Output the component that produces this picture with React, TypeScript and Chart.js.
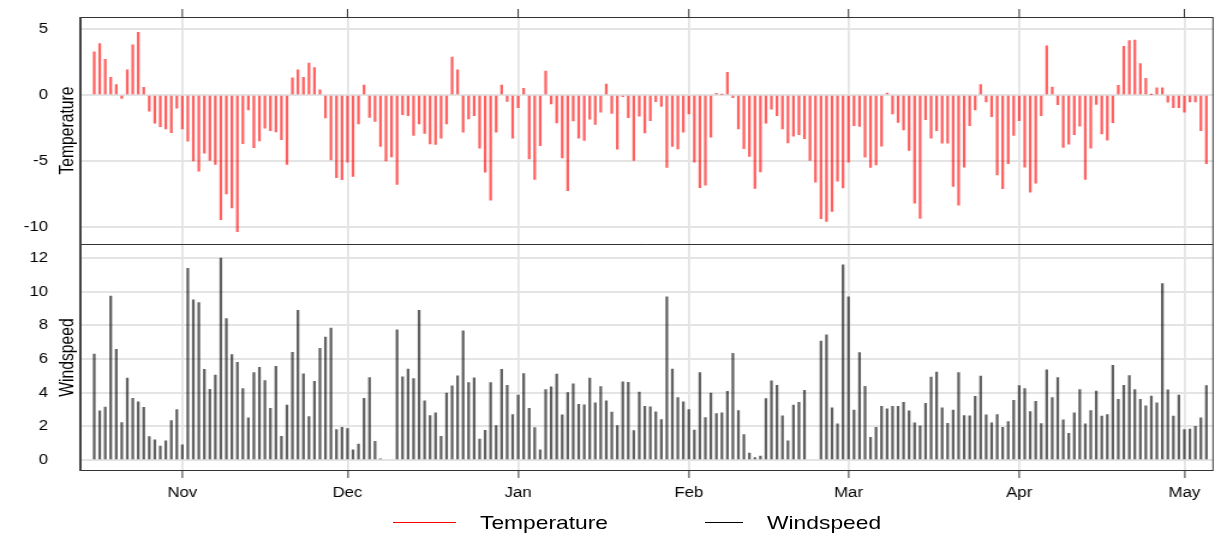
import React, { useEffect, useRef } from "react";
import { Chart, registerables } from "chart.js";

Chart.register(...registerables);

// ---------- DATA ----------
const startDate = "2019-10-16";

const tempOct = [3.27, 3.9, 2.7, 1.33, 0.78, -0.25, 1.9, 3.8, 4.74, 0.58, -1.23, -2.14, -2.4, -2.57, -2.85, -1.0];
const tempNov = [-2.57, -3.5, -5.0, -5.77, -4.4, -4.96, -5.26, -9.45, -7.5, -8.56, -10.35, -3.68, -1.13, -4.0, -3.48, -2.52, -2.7, -2.8, -3.38, -5.26, 1.31, 1.91, 1.33, 2.42, 2.07, 0.4, -1.74, -4.91, -6.27, -6.42];
const tempDec = [-5.09, -6.17, -2.2, 0.76, -1.69, -2.0, -3.9, -5.0, -4.7, -6.78, -1.5, -1.56, -3.07, -2.2, -2.92, -3.7, -3.75, -3.27, -2.19, 2.87, 1.9, -2.82, -1.81, -1.56, -4.03, -5.84, -7.96, -2.82, 0.76, -0.48, -3.27];
const tempJan = [-0.96, 0.5, -4.84, -6.4, -3.83, 1.81, -0.68, -2.12, -4.76, -7.25, -1.96, -3.27, -3.45, -1.84, -2.22, -1.31, 0.83, -1.39, -4.1, -0.13, -1.71, -4.96, -1.61, -2.87, -1.94, -0.5, -0.86, -5.49, -3.9, -4.08, -2.82];
const tempFeb = [-1.44, -5.09, -7.03, -6.83, -3.2, 0.13, 0.05, 1.71, -0.2, -2.57, -4.06, -4.66, -7.08, -5.82, -2.14, -1.08, -1.56, -2.57, -3.63, -3.12, -3.0, -3.3, -4.96, -6.6, -9.37, -9.57, -8.82, -6.52, -7.05];
const tempMar = [-5.09, -2.32, -2.39, -4.71, -5.49, -5.29, -3.88, 0.15, -1.44, -2.07, -2.64, -4.2, -8.19, -9.35, -1.86, -3.27, -2.7, -3.65, -3.65, -6.93, -8.34, -5.47, -2.32, -1.13, 0.78, -0.53, -1.64, -6.05, -7.1, -5.21, -3.07];
const tempApr = [-1.94, -5.47, -7.36, -6.68, -1.56, 3.73, 0.6, -0.73, -3.98, -3.73, -3.0, -2.37, -6.4, -4.03, -0.71, -2.95, -3.43, -2.09, 0.73, 3.68, 4.13, 4.16, 2.39, 1.26, 0.03, 0.55, 0.55, -0.55, -0.96, -0.96];
const tempMay = [-1.31, -0.53, -0.53, -2.7, -5.21];

const windOct = [6.3, 2.92, 3.14, 9.74, 6.58, 2.22, 4.86, 3.66, 3.46, 3.12, 1.38, 1.2, 0.82, 1.14, 2.34, 3.0];
const windNov = [0.9, 11.4, 9.52, 9.36, 5.38, 4.2, 5.04, 12.0, 8.4, 6.26, 5.8, 4.24, 2.5, 5.2, 5.5, 4.72, 3.06, 5.56, 1.4, 3.26, 6.4, 8.9, 5.12, 2.58, 4.68, 6.64, 7.3, 7.84, 1.8, 1.94];
const windDec = [1.86, 0.6, 0.94, 3.66, 4.9, 1.1, 0.06, null, null, 7.74, 4.94, 5.4, 4.84, 8.9, 3.52, 2.64, 2.8, 1.4, 3.98, 4.4, 5.0, 7.68, 4.6, 4.88, 1.24, 1.76, 4.6, 2.04, 5.38, 4.44, 2.7];
const windJan = [3.86, 5.14, 3.06, 1.92, 0.6, 4.18, 4.34, 5.1, 2.68, 4.0, 4.52, 3.3, 3.28, 4.86, 3.4, 4.36, 3.52, 2.84, 2.04, 4.64, 4.62, 1.74, 4.04, 3.18, 3.16, 2.86, 2.4, 9.7, 5.4, 3.7, 3.46];
const windFeb = [3.0, 1.78, 5.2, 2.52, 3.98, 2.76, 2.8, 4.08, 6.34, 2.94, 1.5, 0.4, 0.14, 0.22, 3.64, 4.7, 4.44, 2.62, 1.14, 3.26, 3.42, 4.14, null, null, 7.06, 7.44, 3.1, 2.14, 11.6];
const windMar = [9.7, 2.96, 6.38, 4.38, 1.34, 1.94, 3.18, 3.04, 3.18, 3.18, 3.42, 2.92, 2.2, 2.02, 3.36, 4.92, 5.22, 3.1, 2.18, 2.96, 5.2, 2.64, 2.62, 3.78, 4.98, 2.68, 2.2, 2.7, 1.94, 2.28, 3.54];
const windApr = [4.42, 4.24, 2.88, 3.48, 2.16, 5.36, 3.7, 4.9, 2.38, 1.58, 2.8, 4.18, 2.14, 2.94, 4.1, 2.6, 2.7, 5.62, 3.6, 4.44, 5.02, 4.18, 3.6, 3.22, 3.8, 3.4, 10.48, 4.16, 2.6, 3.86];
const windMay = [1.8, 1.84, 2.0, 2.5, 4.42];

const temperature = [...tempOct, ...tempNov, ...tempDec, ...tempJan, ...tempFeb, ...tempMar, ...tempApr, ...tempMay];
const windspeed = [...windOct, ...windNov, ...windDec, ...windJan, ...windFeb, ...windMar, ...windApr, ...windMay];

const monthTickDates = ["2019-11-01", "2019-12-01", "2020-01-01", "2020-02-01", "2020-03-01", "2020-04-01", "2020-05-01"];
const monthTickLabels = ["Nov", "Dec", "Jan", "Feb", "Mar", "Apr", "May"];
const tempTicks = [-10, -5, 0, 5];
const windTicks = [0, 2, 4, 6, 8, 10, 12];
const seriesNames = ["Temperature", "Windspeed"];
const seriesColors = ["#ff0000", "#000000"];

// ---------- HELPERS ----------
const DAY = 86400000;
const dayIndex = (d: string) => Math.round((Date.parse(d) - Date.parse(startDate)) / DAY);
const monthTickDays = monthTickDates.map(dayIndex);

const FONT = '"Liberation Sans", Arial, sans-serif';

// the figure is drawn on a narrower canvas and stretched horizontally (as in the reference)
const OUT_W = 1215;
const OUT_H = 533;
const CANVAS_W = 1012;
const SX = OUT_W / CANVAS_W;

const framePlugin = {
  id: "frame",
  afterDraw(chart: any) {
    const { ctx, chartArea: a, scales } = chart;
    ctx.save();
    ctx.strokeStyle = "#333";
    ctx.lineWidth = 1;
    ctx.strokeRect(a.left, a.top + 0.5, a.right - a.left, a.bottom - a.top - 1);
    const sep = Math.round(scales.yT.bottom) + 0.5;
    ctx.beginPath();
    ctx.moveTo(a.left, sep);
    ctx.lineTo(a.right, sep);
    ctx.stroke();
    ctx.strokeStyle = "#444";
    ctx.lineWidth = 2;
    ctx.beginPath();
    ctx.moveTo(a.left - 0.5, a.top);
    ctx.lineTo(a.left - 0.5, a.bottom);
    ctx.stroke();
    ctx.strokeStyle = "#333";
    ctx.lineWidth = 1;
    monthTickDays.forEach((d) => {
      const x = scales.x.getPixelForValue(d);
      ctx.beginPath();
      ctx.moveTo(x, a.top - 8);
      ctx.lineTo(x, a.top);
      ctx.stroke();
    });
    ctx.fillStyle = "#000";
    ctx.font = `15.7px ${FONT}`;
    ctx.textAlign = "center";
    ctx.textBaseline = "middle";
    const strips = [
      { s: scales.yT, t: seriesNames[0] },
      { s: scales.yW, t: seriesNames[1] },
    ];
    strips.forEach(({ s, t }) => {
      ctx.save();
      ctx.translate(68 / SX, (s.top + s.bottom) / 2);
      ctx.rotate(-Math.PI / 2);
      ctx.fillText(t, 0, 0);
      ctx.restore();
    });
    ctx.restore();
  },
};

const yAfterFit = (s: any) => {
  s.width = 81 / SX;
  s.paddingTop = 0;
  s.paddingBottom = 0;
};

export default function App() {
  const ref = useRef<HTMLCanvasElement | null>(null);

  useEffect(() => {
    if (!ref.current) return;
    const chart = new Chart(ref.current, {
      type: "bar",
      data: {
        datasets: [
          {
            label: seriesNames[0],
            data: temperature.map((v, i) => ({ x: i, y: v })),
            yAxisID: "yT",
            backgroundColor: "rgba(255,0,0,0.62)",
            barThickness: 1.6,
            grouped: false,
          } as any,
          {
            label: seriesNames[1],
            data: windspeed.map((v, i) => ({ x: i, y: v })),
            yAxisID: "yW",
            backgroundColor: "rgba(0,0,0,0.62)",
            barThickness: 1.6,
            grouped: false,
          } as any,
        ],
      },
      options: {
        animation: false,
        responsive: false,
        maintainAspectRatio: false,
        devicePixelRatio: 1,
        layout: { padding: { top: 17, right: CANVAS_W - 1213 / SX, left: 0, bottom: 0 } },
        plugins: { legend: { display: false }, tooltip: { enabled: false } },
        scales: {
          x: {
            type: "linear",
            position: "bottom",
            offset: false,
            min: -2.4,
            max: 203.2,
            afterBuildTicks: (s: any) => {
              s.ticks = monthTickDays.map((v) => ({ value: v }));
            },
            afterFit: (s: any) => {
              s.height = OUT_H - 471;
              s.paddingLeft = 0;
              s.paddingRight = 0;
            },
            ticks: {
              autoSkip: false,
              maxRotation: 0,
              padding: 7,
              color: "#000",
              font: { family: FONT, size: 14 },
              callback: (v: any) => {
                const k = monthTickDays.indexOf(Number(v));
                return k >= 0 ? monthTickLabels[k] : "";
              },
            },
            grid: { offset: false, color: "#e4e4e4", lineWidth: 1.8, drawTicks: true, tickLength: 7, tickColor: "#333", tickWidth: 1 },
            border: { display: false },
          },
          yW: {
            type: "linear",
            position: "left",
            stack: "panels",
            stackWeight: 1,
            min: -0.66,
            max: 12.84,
            afterBuildTicks: (s: any) => {
              s.ticks = windTicks.map((v) => ({ value: v }));
            },
            afterFit: yAfterFit,
            ticks: { padding: (81 - 48) / SX, color: "#000", font: { family: FONT, size: 14 } },
            grid: { color: "#e4e4e4", lineWidth: 2, drawTicks: false },
            border: { display: false },
          },
          yT: {
            type: "linear",
            position: "left",
            stack: "panels",
            stackWeight: 1,
            min: -11.29,
            max: 5.91,
            afterBuildTicks: (s: any) => {
              s.ticks = tempTicks.map((v) => ({ value: v }));
            },
            afterFit: yAfterFit,
            ticks: { padding: (81 - 48) / SX, color: "#000", font: { family: FONT, size: 14 } },
            grid: { color: "#e4e4e4", lineWidth: 2, drawTicks: false },
            border: { display: false },
          },
        } as any,
      },
      plugins: [framePlugin],
    });
    return () => chart.destroy();
  }, []);

  const textStyle: React.CSSProperties = {
    position: "absolute",
    top: 510,
    font: `19px ${FONT}`,
    color: "#000",
    lineHeight: "26px",
    whiteSpace: "nowrap",
    transform: `scaleX(${SX})`,
    transformOrigin: "left center",
  };
  const lineStyle: React.CSSProperties = {
    position: "absolute",
    top: 522,
    height: 0,
    borderTopWidth: 1,
    borderTopStyle: "solid",
  };

  return (
    <div style={{ position: "fixed", left: 0, top: 0, width: OUT_W, height: OUT_H, background: "#fff", overflow: "hidden" }}>
      <canvas
        ref={ref}
        width={CANVAS_W}
        height={OUT_H}
        style={{ position: "absolute", left: 0, top: 0, width: OUT_W, height: OUT_H }}
      />
      <div style={{ ...lineStyle, left: 393, width: 63, borderTopColor: seriesColors[0] }} />
      <div style={{ ...textStyle, left: 480 }}>{seriesNames[0]}</div>
      <div style={{ ...lineStyle, left: 705, width: 38, borderTopColor: seriesColors[1] }} />
      <div style={{ ...textStyle, left: 767 }}>{seriesNames[1]}</div>
    </div>
  );
}
